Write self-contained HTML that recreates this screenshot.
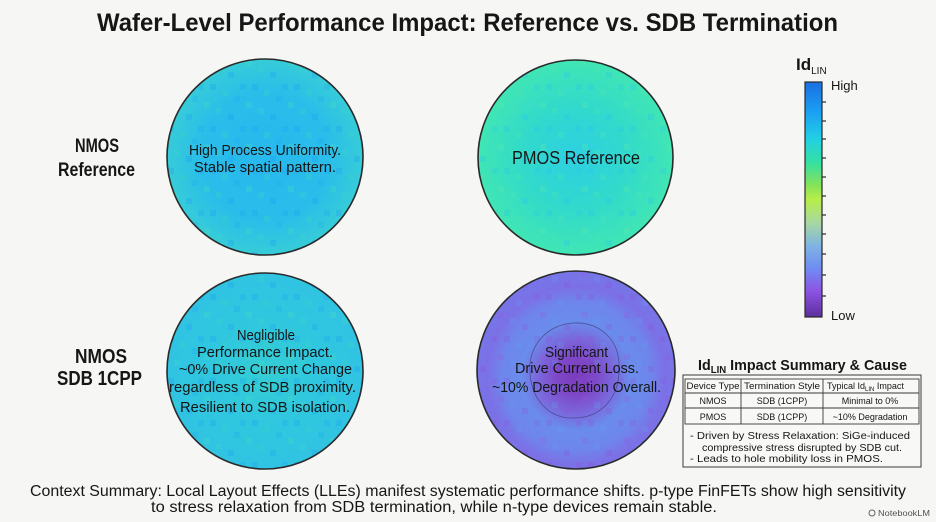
<!DOCTYPE html>
<html>
<head>
<meta charset="utf-8">
<style>
  html,body{margin:0;padding:0;background:#f6f6f4;}
  svg{display:block;}
  text{font-family:"Liberation Sans", sans-serif; fill:#161616;}
</style>
</head>
<body>
<svg width="936" height="522" viewBox="0 0 936 522" xmlns="http://www.w3.org/2000/svg">
  <defs>
    <radialGradient id="gNR" cx="50%" cy="50%" r="50%">
      <stop offset="0%" stop-color="#28b8ee"/>
      <stop offset="65%" stop-color="#2abdea"/>
      <stop offset="100%" stop-color="#36ccd8"/>
    </radialGradient>
    <radialGradient id="gPR" cx="50%" cy="50%" r="50%">
      <stop offset="0%" stop-color="#2dd0e2"/>
      <stop offset="50%" stop-color="#31d9cd"/>
      <stop offset="100%" stop-color="#40e6b4"/>
    </radialGradient>
    <radialGradient id="gNS" cx="50%" cy="50%" r="50%">
      <stop offset="0%" stop-color="#34ced4"/>
      <stop offset="60%" stop-color="#2fc6e0"/>
      <stop offset="100%" stop-color="#30c4e2"/>
    </radialGradient>
    <radialGradient id="gPS" cx="50%" cy="53%" r="50%">
      <stop offset="0%" stop-color="#7a3cbc"/>
      <stop offset="20%" stop-color="#7e48c8"/>
      <stop offset="38%" stop-color="#7a68dc"/>
      <stop offset="55%" stop-color="#6a8cec"/>
      <stop offset="75%" stop-color="#6e86ec"/>
      <stop offset="90%" stop-color="#7c70e6"/>
      <stop offset="100%" stop-color="#7874e8"/>
    </radialGradient>
    <linearGradient id="gBar" x1="0" y1="0" x2="0" y2="1">
      <stop offset="0%" stop-color="#1b6fe2"/>
      <stop offset="12%" stop-color="#1b9cf2"/>
      <stop offset="24%" stop-color="#22cfe6"/>
      <stop offset="34%" stop-color="#33e0a2"/>
      <stop offset="44%" stop-color="#86e25a"/>
      <stop offset="50%" stop-color="#b8ee48"/>
      <stop offset="60%" stop-color="#a6d8a4"/>
      <stop offset="70%" stop-color="#7fb2e2"/>
      <stop offset="79%" stop-color="#6e8ef2"/>
      <stop offset="89%" stop-color="#8c54e4"/>
      <stop offset="100%" stop-color="#5c2e9c"/>
    </linearGradient>
    <pattern id="tBlue" width="42" height="42" patternUnits="userSpaceOnUse">
      <rect x="0" y="0" width="6" height="6" fill="#1a9ff2" opacity="0.3"/>
      <rect x="12" y="6" width="6" height="6" fill="#3ad6c6" opacity="0.3"/>
      <rect x="30" y="0" width="6" height="6" fill="#1a9ff2" opacity="0.25"/>
      <rect x="6" y="24" width="6" height="6" fill="#3ad6c6" opacity="0.28"/>
      <rect x="18" y="30" width="6" height="6" fill="#1a9ff2" opacity="0.3"/>
      <rect x="36" y="18" width="6" height="6" fill="#48dcb8" opacity="0.28"/>
      <rect x="24" y="12" width="6" height="6" fill="#1a9ff2" opacity="0.2"/>
    </pattern>
    <pattern id="tGreen" width="42" height="42" patternUnits="userSpaceOnUse">
      <rect x="0" y="0" width="6" height="6" fill="#24c0ee" opacity="0.25"/>
      <rect x="12" y="6" width="6" height="6" fill="#4ce6b0" opacity="0.3"/>
      <rect x="30" y="0" width="6" height="6" fill="#24c0ee" opacity="0.2"/>
      <rect x="6" y="24" width="6" height="6" fill="#4ce6b0" opacity="0.28"/>
      <rect x="18" y="30" width="6" height="6" fill="#24c0ee" opacity="0.28"/>
      <rect x="36" y="18" width="6" height="6" fill="#58e8a8" opacity="0.28"/>
    </pattern>
    <pattern id="tPurp" width="42" height="42" patternUnits="userSpaceOnUse">
      <rect x="0" y="0" width="6" height="6" fill="#8a4ed8" opacity="0.25"/>
      <rect x="12" y="6" width="6" height="6" fill="#5fa0f0" opacity="0.25"/>
      <rect x="30" y="0" width="6" height="6" fill="#8a4ed8" opacity="0.2"/>
      <rect x="6" y="24" width="6" height="6" fill="#5fa0f0" opacity="0.22"/>
      <rect x="18" y="30" width="6" height="6" fill="#8a4ed8" opacity="0.25"/>
      <rect x="36" y="18" width="6" height="6" fill="#9a50dc" opacity="0.22"/>
    </pattern>
  </defs>

  <rect width="936" height="522" fill="#f6f6f4"/>

  <!-- Title -->
  <text x="97" y="31" font-size="25" font-weight="bold" textLength="741" lengthAdjust="spacingAndGlyphs">Wafer-Level Performance Impact: Reference vs. SDB Termination</text>

  <!-- Row labels -->
  <text x="97" y="152" font-size="19" font-weight="bold" text-anchor="middle" textLength="44" lengthAdjust="spacingAndGlyphs">NMOS</text>
  <text x="96.5" y="176" font-size="19" font-weight="bold" text-anchor="middle" textLength="77" lengthAdjust="spacingAndGlyphs">Reference</text>
  <text x="101" y="363" font-size="20" font-weight="bold" text-anchor="middle" textLength="52" lengthAdjust="spacingAndGlyphs">NMOS</text>
  <text x="99.5" y="385" font-size="20" font-weight="bold" text-anchor="middle" textLength="85" lengthAdjust="spacingAndGlyphs">SDB 1CPP</text>

  <!-- NMOS Reference wafer -->
  <circle cx="265" cy="157" r="98" fill="url(#gNR)"/>
  <circle cx="265" cy="157" r="98" fill="url(#tBlue)"/>
  <circle cx="265" cy="157" r="98" fill="none" stroke="#2a2a2a" stroke-width="1.6"/>
  <text x="265" y="155" font-size="15" text-anchor="middle" textLength="152" lengthAdjust="spacingAndGlyphs">High Process Uniformity.</text>
  <text x="265" y="172" font-size="15" text-anchor="middle" textLength="142" lengthAdjust="spacingAndGlyphs">Stable spatial pattern.</text>

  <!-- PMOS Reference wafer -->
  <circle cx="575.5" cy="157.5" r="97.5" fill="url(#gPR)"/>
  <circle cx="575.5" cy="157.5" r="97.5" fill="url(#tGreen)"/>
  <circle cx="575.5" cy="157.5" r="97.5" fill="none" stroke="#2a2a2a" stroke-width="1.6"/>
  <text x="576" y="164" font-size="18" text-anchor="middle" textLength="128" lengthAdjust="spacingAndGlyphs">PMOS Reference</text>

  <!-- NMOS SDB wafer -->
  <circle cx="265" cy="371" r="98" fill="url(#gNS)"/>
  <circle cx="265" cy="371" r="98" fill="url(#tBlue)"/>
  <circle cx="265" cy="371" r="98" fill="none" stroke="#2a2a2a" stroke-width="1.6"/>
  <text x="266" y="340" font-size="15" text-anchor="middle" textLength="58" lengthAdjust="spacingAndGlyphs">Negligible</text>
  <text x="265" y="357" font-size="15" text-anchor="middle" textLength="136" lengthAdjust="spacingAndGlyphs">Performance Impact.</text>
  <text x="265.5" y="374" font-size="15" text-anchor="middle" textLength="173" lengthAdjust="spacingAndGlyphs">~0% Drive Current Change</text>
  <text x="262.5" y="392" font-size="15" text-anchor="middle" textLength="187" lengthAdjust="spacingAndGlyphs">regardless of SDB proximity.</text>
  <text x="265" y="412" font-size="15" text-anchor="middle" textLength="170" lengthAdjust="spacingAndGlyphs">Resilient to SDB isolation.</text>

  <!-- PMOS SDB wafer -->
  <circle cx="576" cy="370" r="99" fill="url(#gPS)"/>
  <circle cx="576" cy="370" r="99" fill="url(#tPurp)"/>
  <circle cx="576" cy="370" r="99" fill="none" stroke="#2a2a2a" stroke-width="1.6"/>
  <path d="M530 372 C528 345 548 324 574 323 C600 322 620 340 619 368 C620 396 602 418 574 418 C548 419 531 398 530 372 Z" fill="none" stroke="#3a2a60" stroke-width="0.8" opacity="0.6"/>
  <text x="576.5" y="357" font-size="15" text-anchor="middle" textLength="63" lengthAdjust="spacingAndGlyphs">Significant</text>
  <text x="577" y="373" font-size="15" text-anchor="middle" textLength="124" lengthAdjust="spacingAndGlyphs">Drive Current Loss.</text>
  <text x="576.5" y="392" font-size="15" text-anchor="middle" textLength="169" lengthAdjust="spacingAndGlyphs">~10% Degradation Overall.</text>

  <!-- Colorbar -->
  <text x="796" y="70" font-size="17" font-weight="bold">Id<tspan font-size="10" dy="4" font-weight="normal">LIN</tspan></text>
  <rect x="805" y="82" width="17" height="235" fill="url(#gBar)" stroke="#2a2a2a" stroke-width="1.2"/>
  <g stroke="#2a2a2a" stroke-width="1.2">
    <line x1="822" y1="102" x2="826" y2="102"/>
    <line x1="822" y1="121" x2="826" y2="121"/>
    <line x1="822" y1="139" x2="826" y2="139"/>
    <line x1="822" y1="158" x2="826" y2="158"/>
    <line x1="822" y1="177" x2="826" y2="177"/>
    <line x1="822" y1="196" x2="826" y2="196"/>
    <line x1="822" y1="215" x2="826" y2="215"/>
    <line x1="822" y1="234" x2="826" y2="234"/>
    <line x1="822" y1="254" x2="826" y2="254"/>
    <line x1="822" y1="275" x2="826" y2="275"/>
    <line x1="822" y1="296" x2="826" y2="296"/>
  </g>
  <text x="831" y="90" font-size="13">High</text>
  <text x="831" y="320" font-size="13">Low</text>

  <!-- Summary box -->
  <text x="698" y="370" font-size="15" font-weight="bold" textLength="209" lengthAdjust="spacingAndGlyphs">Id<tspan font-size="10" dy="3">LIN</tspan><tspan dy="-3"> Impact Summary &amp; Cause</tspan></text>
  <rect x="683" y="375" width="238" height="92" fill="#f8f8f6" stroke="#3a3a3a" stroke-width="1"/>
  <g stroke="#3a3a3a" stroke-width="0.9" fill="none">
    <rect x="685" y="379" width="234" height="45"/>
    <line x1="685" y1="393" x2="919" y2="393"/>
    <line x1="685" y1="408" x2="919" y2="408"/>
    <line x1="741" y1="379" x2="741" y2="424"/>
    <line x1="823" y1="379" x2="823" y2="424"/>
  </g>
  <g font-size="9">
    <text x="713" y="389" text-anchor="middle" textLength="53" lengthAdjust="spacingAndGlyphs">Device Type</text>
    <text x="782" y="389" text-anchor="middle" textLength="76" lengthAdjust="spacingAndGlyphs">Termination Style</text>
    <text x="827" y="389">Typical Id<tspan font-size="6" dy="2">LIN</tspan><tspan dy="-2"> Impact</tspan></text>
    <text x="713" y="404" text-anchor="middle">NMOS</text>
    <text x="782" y="404" text-anchor="middle">SDB (1CPP)</text>
    <text x="870" y="404" text-anchor="middle">Minimal to 0%</text>
    <text x="713" y="420" text-anchor="middle">PMOS</text>
    <text x="782" y="420" text-anchor="middle">SDB (1CPP)</text>
    <text x="870" y="420" text-anchor="middle">~10% Degradation</text>
  </g>
  <g font-size="10.5">
    <text x="690" y="439" textLength="220" lengthAdjust="spacingAndGlyphs">- Driven by Stress Relaxation: SiGe-induced</text>
    <text x="702" y="451" textLength="200" lengthAdjust="spacingAndGlyphs">compressive stress disrupted by SDB cut.</text>
    <text x="690" y="462" textLength="193" lengthAdjust="spacingAndGlyphs">- Leads to hole mobility loss in PMOS.</text>
  </g>

  <!-- Bottom context -->
  <text x="30" y="496" font-size="15.5" textLength="876" lengthAdjust="spacingAndGlyphs">Context Summary: Local Layout Effects (LLEs) manifest systematic performance shifts. p-type FinFETs show high sensitivity</text>
  <text x="151" y="512" font-size="15.5" textLength="566" lengthAdjust="spacingAndGlyphs">to stress relaxation from SDB termination, while n-type devices remain stable.</text>

  <!-- Watermark -->
  <g opacity="0.75">
    <circle cx="872" cy="513" r="3" fill="none" stroke="#333" stroke-width="1"/>
    <text x="878" y="516" font-size="8.5" textLength="52" lengthAdjust="spacingAndGlyphs">NotebookLM</text>
  </g>
</svg>
</body>
</html>
